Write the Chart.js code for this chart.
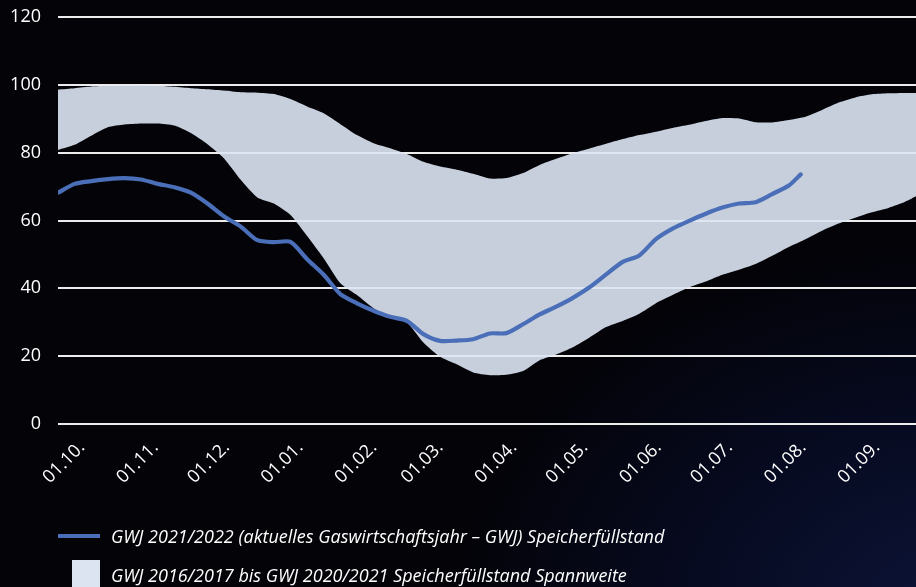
<!DOCTYPE html>
<html>
<head>
<meta charset="utf-8">
<script src="https://cdn.jsdelivr.net/npm/chart.js@4.4.1/dist/chart.umd.min.js"></script>
<style>
html,body{margin:0;padding:0;width:916px;height:587px;overflow:hidden;background:#030307;}
#wrap{position:relative;width:916px;height:587px;
  background:radial-gradient(ellipse 70% 80% at 105% 105%, #0d1438 0%, #070b22 40%, #030308 80%);}
#c{position:absolute;left:0;top:0;}
.legtxt{position:absolute;font-family:"Open Sans",sans-serif;font-style:italic;font-size:18px;color:#fff;white-space:nowrap;line-height:20px;}
.legline{position:absolute;left:58px;top:534px;width:42px;height:4px;background:#4a6fb8;}
.legbox{position:absolute;left:72px;top:560px;width:28px;height:28px;background:#dce4f2;}
</style>
</head>
<body>
<div id="wrap">
<canvas id="c" width="916" height="587"></canvas>
<div class="legline"></div>
<div class="legtxt" id="t1" style="left:111px;top:526px;">GWJ 2021/2022 (aktuelles Gaswirtschaftsjahr – GWJ) Speicherfüllstand</div>
<div class="legbox"></div>
<div class="legtxt" id="t2" style="left:111px;top:565px;">GWJ 2016/2017 bis GWJ 2020/2021 Speicherfüllstand Spannweite</div>
</div>
<script>
// Day index since 01.10. (weekly samples)
const weekDays = [0,7,14,21,28,35,42,49,56,63,70,77,84,91,98,105,112,119,126,133,140,147,154,161,168,175,182,189,196,203,210,217,224,231,238,245,252,259,266,273,280,287,294,301,308,315,322,329,336,343,350,357,364];
// Range GWJ 2016/2017 – 2020/2021 (upper / lower bound, %)
const bandUpper = [98.6,99.0,99.5,99.7,99.8,99.9,99.7,99.4,99.0,98.7,98.3,97.8,97.7,97.3,95.8,93.6,91.6,88.4,85.2,82.8,81.3,79.6,77.3,75.9,75.0,73.8,72.4,72.5,74.0,76.4,78.2,79.8,81.2,82.6,84.0,85.2,86.2,87.3,88.2,89.3,90.2,90.1,89.0,88.9,89.6,90.6,92.6,94.8,96.3,97.2,97.5,97.6,97.6];
const bandLower = [80.8,82.3,85.0,87.5,88.3,88.6,88.6,88.0,85.8,82.5,78.3,72.0,66.8,65.0,61.6,55.4,48.8,41.5,38.0,34.1,31.3,30.0,24.0,19.8,17.6,15.2,14.4,14.5,15.6,18.8,20.5,22.6,25.5,28.6,30.4,32.5,35.6,38.0,40.3,42.0,44.0,45.5,47.2,49.6,52.2,54.5,57.0,59.1,60.8,62.4,63.7,65.5,68.0];
// GWJ 2021/2022 current storage level (%)
const currentDays = [0,7,14,21,28,35,42,49,56,63,70,77,84,91,98,105,112,119,126,133,140,147,154,161,168,175,182,189,196,203,210,217,224,231,238,245,252,259,266,273,280,287,294,301,308,313];
const currentLevel = [68.2,70.8,71.6,72.2,72.5,72.1,70.8,69.8,68.2,65.0,61.2,58.2,54.2,53.6,53.7,48.6,44.0,38.3,35.6,33.4,31.6,30.4,26.5,24.5,24.6,25.0,26.7,26.8,29.4,32.3,34.6,37.2,40.3,44.1,47.8,49.7,54.5,57.6,59.9,62.0,63.8,65.0,65.4,67.8,70.3,73.6];
// Axis ticks
const monthStarts = [0,31,61,92,123,151,182,212,243,273,304,335];
const monthLabels = ['01.10.','01.11.','01.12.','01.01.','01.02.','01.03.','01.04.','01.05.','01.06.','01.07.','01.08.','01.09.'];
const yTicks = [0,20,40,60,80,100,120];

const toPts = (xs, ys) => ys.map((v, i) => ({x: xs[i], y: v}));
const FONT = {family: '"Open Sans", sans-serif', size: 18};

new Chart(document.getElementById('c'), {
  type: 'line',
  data: {
    datasets: [
      {label: 'GWJ 2021/2022 (aktuelles Gaswirtschaftsjahr – GWJ) Speicherfüllstand', data: toPts(currentDays, currentLevel), borderColor: '#4a6fb8', borderWidth: 4.2, borderCapStyle: 'round', borderJoinStyle: 'round', pointRadius: 0, fill: false, tension: 0.25},
      {label: 'lower', data: toPts(weekDays, bandLower), borderWidth: 0, borderColor: 'rgba(0,0,0,0)', pointRadius: 0, fill: false, tension: 0.2},
      {label: 'GWJ 2016/2017 bis GWJ 2020/2021 Speicherfüllstand Spannweite', data: toPts(weekDays, bandUpper), borderWidth: 0, borderColor: 'rgba(0,0,0,0)', pointRadius: 0, fill: '-1', backgroundColor: 'rgba(220,229,243,0.9)', tension: 0.2}
    ]
  },
  options: {
    responsive: false,
    animation: false,
    devicePixelRatio: 1,
    layout: {padding: {top: 17, right: 0, bottom: 0, left: 0}},
    plugins: {legend: {display: false}, tooltip: {enabled: false}},
    scales: {
      x: {
        type: 'linear', min: 0, max: 361.6,
        grid: {display: false, drawTicks: false},
        border: {display: false},
        afterBuildTicks: (s) => { s.ticks = monthStarts.map(v => ({value: v})); },
        afterFit: (s) => { s.height = 163; s.paddingLeft = 0; s.paddingRight = 0; },
        ticks: {
          autoSkip: false, minRotation: 45, maxRotation: 45,
          labelOffset: 24, padding: 13,
          color: '#ffffff', font: FONT,
          callback: (v) => monthLabels[monthStarts.indexOf(v)]
        }
      },
      y: {
        min: 0, max: 120,
        afterBuildTicks: (s) => { s.ticks = yTicks.map(v => ({value: v})); },
        afterFit: (s) => { s.width = 58; s.paddingTop = 0; s.paddingBottom = 0; },
        grid: {color: '#ececec', lineWidth: 2, drawTicks: false},
        border: {display: false},
        ticks: {color: '#ffffff', font: FONT, padding: 17}
      }
    }
  }
});
</script>
</body>
</html>
